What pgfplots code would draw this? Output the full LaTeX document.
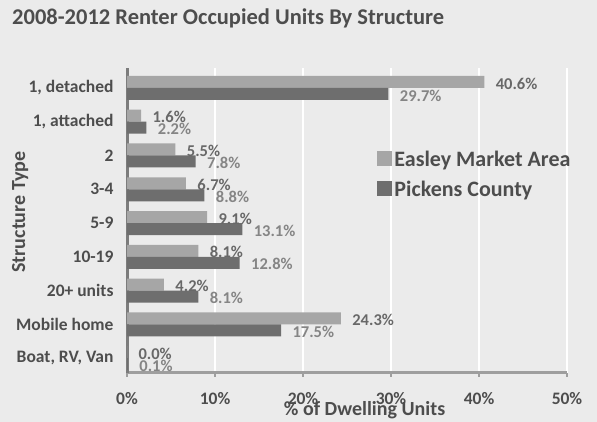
\documentclass[border=0pt]{standalone}
\usepackage{pgfplots}
\pgfplotsset{compat=1.18}
\usepackage{fontspec}
\setmainfont{Carlito}
\definecolor{bgc}{HTML}{EBEBEB}
\definecolor{easley}{HTML}{A6A6A6}
\definecolor{pickens}{HTML}{6E6E6E}
\definecolor{txt}{HTML}{4D4D4D}
\definecolor{axc}{HTML}{7C7C7C}

\begin{document}
\begin{tikzpicture}
\path[use as bounding box] (0,0) rectangle (597pt,422pt);
\fill[bgc] (0,0) rectangle (597pt,422pt);
\node[anchor=base west, inner sep=0, text=txt,
      font=\bfseries\fontsize{22.5}{22.5}\selectfont] at (12pt,397pt)
      {2008-2012 Renter Occupied Units By Structure};
\begin{axis}[
    at={(347pt,201.5pt)}, anchor=center,
    scale only axis, width=440pt, height=305pt,
    xbar, bar width=12pt,
    xmin=0, xmax=50, ymin=-0.44, ymax=8.59,
    axis x line*=bottom, axis y line*=left,
    x axis line style={black!38, line width=3pt},
    y axis line style={axc, line width=3pt},
    xmajorgrids, grid style={white, line width=1.5pt},
    xtick={0,10,...,50},
    xticklabel={\pgfmathprintnumber{\tick}\%},
    ytick={0,...,8},
    yticklabels={{Boat, RV, Van},Mobile home,20+ units,10-19,5-9,3-4,2,{1, attached},{1, detached}},
    minor ytick={-0.5,0.5,...,8.5},
    tick align=outside,
    major tick length=4pt, minor tick length=5pt,
    xtick style={black!38, line width=1.5pt},
    ytick style={draw=none},
    minor tick style={axc, line width=2pt},
    /pgf/number format/assume math mode=true,
    ticklabel style={text=txt, font=\bfseries\fontsize{17.5}{17.5}\selectfont},
    yticklabel style={xshift=-6pt},
    xticklabel style={yshift=-12pt},
    xlabel={\% of Dwelling Units},
    ylabel={Structure Type},
    label style={text=txt, font=\bfseries\fontsize{20}{20}\selectfont},
    xlabel style={at={(axis description cs:0.54,0)}, anchor=center, yshift=-37pt},
    ylabel style={at={(axis description cs:-0.243,0.528)}, anchor=center},
    nodes near coords={\pgfmathprintnumber[fixed,precision=1,fixed zerofill]{\pgfplotspointmeta}\%},
    nodes near coords style={anchor=west, xshift=8pt, yshift=-1.5pt,
        font=\bfseries\fontsize{16.5}{16.5}\selectfont},
    legend style={at={(0.562,0.742)}, anchor=north west, draw=none, fill=none,
        font=\bfseries\fontsize{22}{22}\selectfont, text=txt, row sep=9pt,
        nodes={inner xsep=2pt}},
    legend cell align=left,
    legend image code/.code={\fill[#1] (0pt,-7pt) rectangle (15pt,8pt);},
]
\addplot[draw=none, fill=easley, bar shift=6pt,
    every node near coord/.append style={text=txt!85}]
    coordinates {(40.6,8) (1.6,7) (5.5,6) (6.7,5) (9.1,4) (8.1,3) (4.2,2) (24.3,1) (0.0,0)};
\addplot[draw=none, fill=pickens, bar shift=-6pt,
    every node near coord/.append style={text=black!48}]
    coordinates {(29.7,8) (2.2,7) (7.8,6) (8.8,5) (13.1,4) (12.8,3) (8.1,2) (17.5,1) (0.1,0)};
\legend{Easley Market Area, Pickens County}
\end{axis}
\end{tikzpicture}
\end{document}
